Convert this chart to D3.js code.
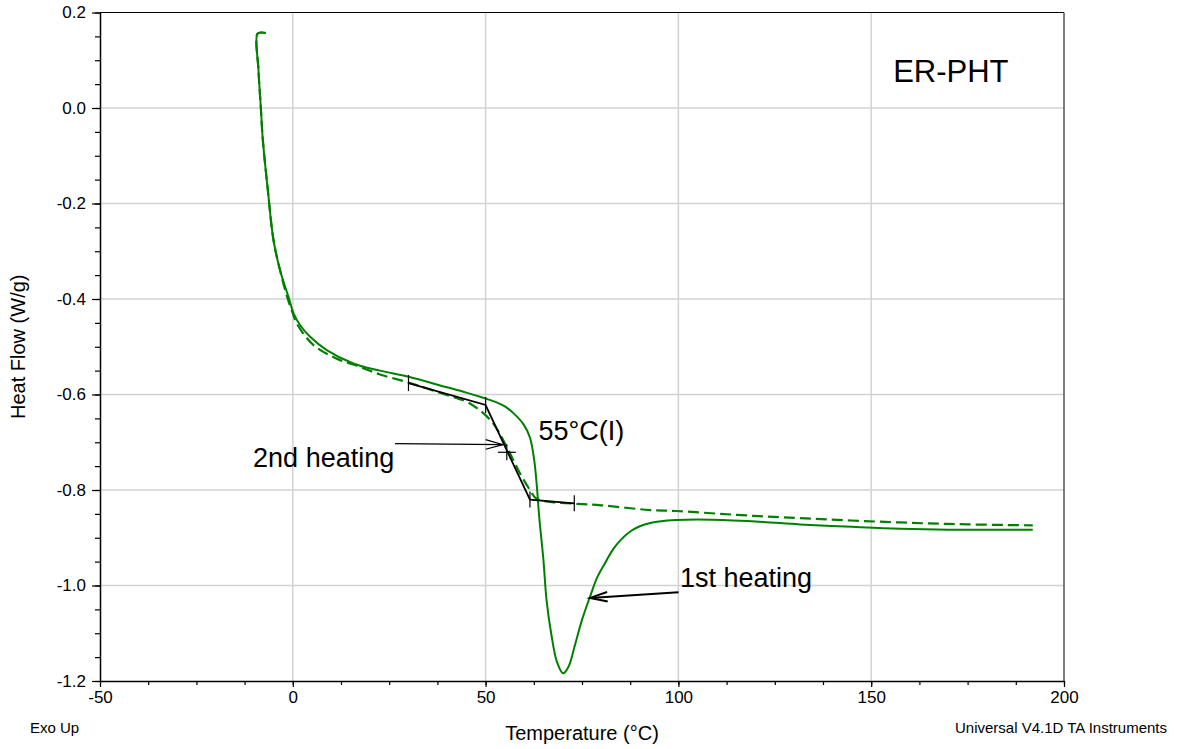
<!DOCTYPE html>
<html>
<head>
<meta charset="utf-8">
<script src="https://cdn.jsdelivr.net/npm/d3@7"></script>
<style>
  body { margin: 0; background: #fff; }
  svg text { font-family: "Liberation Sans", Arial, sans-serif; fill: #000; }
</style>
</head>
<body>
<svg class="chart" width="1177" height="749"></svg>
<script>
// 1st heating (solid) [temperature, heat flow]
const firstHeating = [
  [-7.0, 0.157], [-8.2, 0.158], [-9.2, 0.155], [-8.9, 0.079], [-8.3, 0.002], [-7.8, -0.064],
  [-6.5, -0.17], [-5.0, -0.277], [-3.3, -0.34], [-1.1, -0.396], [0.2, -0.43], [2, -0.456],
  [4.5, -0.479], [8.8, -0.507], [15.7, -0.535], [22.6, -0.550], [30, -0.563], [40, -0.585],
  [45, -0.596], [49.8, -0.608], [53, -0.617], [55, -0.625], [57.2, -0.639], [59.8, -0.662],
  [61.5, -0.690], [62.6, -0.737], [63.3, -0.793], [63.9, -0.856], [65, -0.947], [65.8, -1.03],
  [67, -1.10], [68.5, -1.16], [70.1, -1.184], [71.5, -1.17], [73, -1.13], [75, -1.072],
  [77.1, -1.023], [79, -0.982], [81.4, -0.947], [83, -0.925], [85, -0.905], [87.5, -0.887],
  [90, -0.876], [92.7, -0.869], [95, -0.866], [99.5, -0.863], [105, -0.862], [114.2, -0.864],
  [122, -0.867], [131.5, -0.872], [145, -0.877], [157.5, -0.881], [170, -0.883], [182, -0.883],
  [191.9, -0.883]
];

// 2nd heating (dashed)
const secondHeating = [
  [-7.0, 0.157], [-8.2, 0.158], [-9.2, 0.155], [-8.9, 0.079], [-8.3, 0.002], [-7.8, -0.064],
  [-6.5, -0.17], [-5.0, -0.277], [-3.3, -0.34], [-1.3, -0.40], [0, -0.43], [1.0, -0.451],
  [5.3, -0.496], [11.4, -0.525], [17.4, -0.542], [22.6, -0.558], [30, -0.575], [39.9, -0.601],
  [45, -0.615], [48.5, -0.633], [52, -0.661], [55.5, -0.71], [58.9, -0.765], [61.5, -0.800],
  [63, -0.817], [65, -0.823], [68, -0.826], [73.6, -0.829], [80, -0.832], [92.6, -0.842],
  [99.5, -0.844], [115, -0.852], [131.5, -0.859], [157.5, -0.868], [175, -0.872], [191.9, -0.874]
];

// Tg construction (tangent lines) and the marker crosses
const tangentPoints = [[30, -0.576], [50, -0.622], [61.5, -0.820], [73, -0.828]];
const tickMarks = [[30, -0.576], [50, -0.622], [61.5, -0.820], [73, -0.828]];
const onsetCross = [55.5, -0.721];

// Axis ticks
const xTicks = [-50, 0, 50, 100, 150, 200];
const xMinorTicks = d3.range(-50, 200.1, 12.5);
const yTicks = [-1.2, -1.0, -0.8, -0.6, -0.4, -0.2, 0.0, 0.2];
const yMinorTicks = d3.range(-1.2, 0.2001, 0.05);

// Text labels [x, y, text, size]
const labels = [
  [155.7, 0.0535, 'ER-PHT', 31],
  [63.7, -0.696, '55°C(I)', 27],
  [-10.3, -0.751, '2nd heating', 27],
  [100.4, -1.003, '1st heating', 27]
];
// Arrows [fromX, fromY, toX, toY]
const arrows = [
  [26.5, -0.703, 54.5, -0.705],
  [100.05, -1.014, 77.1, -1.026]
];

const svg = d3.select('svg.chart');
const plotLeft = 100, plotRight = 1064, plotTop = 12.5, plotBottom = 681;

const x = d3.scaleLinear().domain([-50, 200]).range([plotLeft, plotRight]);
const y = d3.scaleLinear().domain([-1.2, 0.2]).range([plotBottom, plotTop]);

//Use plain hyphen for negative numbers
const fmtX = d => d3.format('d')(d).replace('−', '-');
const fmtY = d => d3.format('.1f')(d).replace('−', '-');

//Gridlines
const grid = svg.append('g');
grid.selectAll('.gx')
  .data(xTicks.slice(1, -1))
  .enter().append('line')
    .attr('x1', d => x(d)).attr('x2', d => x(d))
    .attr('y1', plotTop).attr('y2', plotBottom)
    .attr('stroke', '#d2d2d2').attr('stroke-width', 1.5);
grid.selectAll('.gy')
  .data(yTicks.slice(1, -1))
  .enter().append('line')
    .attr('x1', plotLeft).attr('x2', plotRight)
    .attr('y1', d => y(d)).attr('y2', d => y(d))
    .attr('stroke', '#d2d2d2').attr('stroke-width', 1.5);

//Frame top and right
svg.append('line').attr('x1', plotLeft).attr('x2', plotRight).attr('y1', plotTop).attr('y2', plotTop)
  .attr('stroke', '#000').attr('stroke-width', 1.2);
svg.append('line').attr('x1', plotRight).attr('x2', plotRight).attr('y1', plotTop).attr('y2', plotBottom)
  .attr('stroke', '#555').attr('stroke-width', 1.5);

//Minor ticks
svg.append('g')
  .attr('transform', `translate(0,${plotBottom})`)
  .call(d3.axisBottom(x).tickValues(xMinorTicks).tickSize(4).tickFormat(''))
  .call(g => g.select('.domain').remove());
svg.append('g')
  .attr('transform', `translate(${plotLeft},0)`)
  .call(d3.axisLeft(y).tickValues(yMinorTicks).tickSize(5).tickFormat(''))
  .call(g => g.select('.domain').remove());

//Major axes
const xAxis = svg.append('g')
  .attr('transform', `translate(0,${plotBottom})`)
  .call(d3.axisBottom(x).tickValues(xTicks).tickSize(6).tickSizeOuter(0).tickPadding(4).tickFormat(fmtX));
const yAxis = svg.append('g')
  .attr('transform', `translate(${plotLeft},0)`)
  .call(d3.axisLeft(y).tickValues(yTicks).tickSize(8).tickSizeOuter(0).tickPadding(6).tickFormat(fmtY));

[xAxis, yAxis].forEach(a => {
  a.select('.domain').attr('stroke', '#000').attr('stroke-width', 1.5);
  a.selectAll('.tick text')
    .style('font-family', '"Liberation Sans", Arial, sans-serif')
    .style('font-size', '17px').attr('fill', '#000');
});
svg.selectAll('.tick line').attr('stroke', '#000').attr('stroke-width', 1.2);

//Curves
const line = d3.line()
  .x(d => x(d[0]))
  .y(d => y(d[1]))
  .curve(d3.curveCatmullRom.alpha(0.5));

svg.append('path')
  .datum(secondHeating)
  .attr('d', line)
  .attr('fill', 'none')
  .attr('stroke', '#008000')
  .attr('stroke-width', 2.2)
  .attr('stroke-dasharray', '11,5');

svg.append('path')
  .datum(firstHeating)
  .attr('d', line)
  .attr('fill', 'none')
  .attr('stroke', '#008000')
  .attr('stroke-width', 2);

//Tangent construction
svg.append('path')
  .datum(tangentPoints)
  .attr('d', d3.line().x(d => x(d[0])).y(d => y(d[1])))
  .attr('fill', 'none')
  .attr('stroke', '#000')
  .attr('stroke-width', 1.8);

svg.selectAll('.tm')
  .data(tickMarks)
  .enter().append('line')
    .attr('x1', d => x(d[0])).attr('x2', d => x(d[0]))
    .attr('y1', d => y(d[1]) - 8).attr('y2', d => y(d[1]) + 8)
    .attr('stroke', '#000').attr('stroke-width', 1.2);

svg.append('line')
  .attr('x1', x(onsetCross[0]) - 9).attr('x2', x(onsetCross[0]) + 9)
  .attr('y1', y(onsetCross[1])).attr('y2', y(onsetCross[1]))
  .attr('stroke', '#000').attr('stroke-width', 1.2);
svg.append('line')
  .attr('x1', x(onsetCross[0])).attr('x2', x(onsetCross[0]))
  .attr('y1', y(onsetCross[1]) - 8).attr('y2', y(onsetCross[1]) + 8)
  .attr('stroke', '#000').attr('stroke-width', 1.2);

//Arrows
arrows.forEach(a => {
  const x1 = x(a[0]), y1 = y(a[1]), x2 = x(a[2]), y2 = y(a[3]);
  const ang = Math.atan2(y2 - y1, x2 - x1);
  const len = 18, spread = 0.27;
  const w = a[0] > 80 ? 2 : 1.2;
  svg.append('line')
    .attr('x1', x1).attr('y1', y1).attr('x2', x2).attr('y2', y2)
    .attr('stroke', '#000').attr('stroke-width', w);
  svg.append('path')
    .attr('d', `M${x2 - len * Math.cos(ang - spread)},${y2 - len * Math.sin(ang - spread)}` +
               `L${x2},${y2}` +
               `L${x2 - len * Math.cos(ang + spread)},${y2 - len * Math.sin(ang + spread)}`)
    .attr('fill', 'none').attr('stroke', '#000').attr('stroke-width', w);
});

//Labels
svg.selectAll('.lbl')
  .data(labels)
  .enter().append('text')
    .attr('x', d => x(d[0]))
    .attr('y', d => y(d[1]))
    .style('font-size', d => d[3] + 'px')
    .text(d => d[2]);

//Axis titles and footer
svg.append('text')
  .attr('transform', `translate(25,${(plotTop + plotBottom) / 2}) rotate(-90)`)
  .attr('text-anchor', 'middle')
  .style('font-size', '20px')
  .text('Heat Flow (W/g)');

svg.append('text')
  .attr('x', (plotLeft + plotRight) / 2)
  .attr('y', 740)
  .attr('text-anchor', 'middle')
  .style('font-size', '20px')
  .text('Temperature (°C)');

svg.append('text')
  .attr('x', 30).attr('y', 733)
  .style('font-size', '15px')
  .text('Exo Up');

svg.append('text')
  .attr('x', 1167).attr('y', 733)
  .attr('text-anchor', 'end')
  .style('font-size', '15px')
  .text('Universal V4.1D TA Instruments');
</script>
</body>
</html>
